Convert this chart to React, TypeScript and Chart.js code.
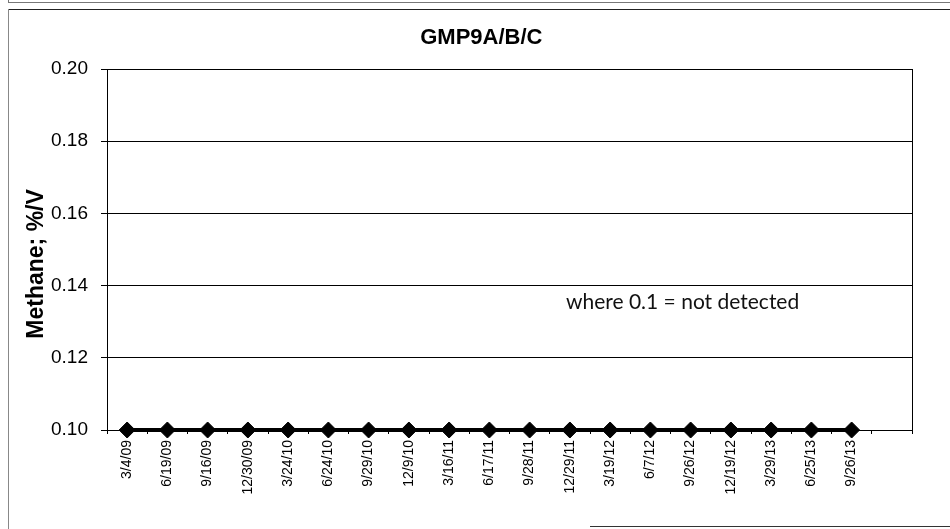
import React, { useEffect, useRef } from "react";
import { Chart, registerables } from "chart.js";

Chart.register(...registerables);

const title = "GMP9A/B/C";
const yAxisTitle = "Methane; %/V";
const note = "where 0.1 = not detected";
const dates = [
  "3/4/09", "6/19/09", "9/16/09", "12/30/09", "3/24/10", "6/24/10", "9/29/10",
  "12/9/10", "3/16/11", "6/17/11", "9/28/11", "12/29/11", "3/19/12", "6/7/12",
  "9/26/12", "12/19/12", "3/29/13", "6/25/13", "9/26/13", "",
];
const methane = [
  0.1, 0.1, 0.1, 0.1, 0.1, 0.1, 0.1, 0.1, 0.1, 0.1,
  0.1, 0.1, 0.1, 0.1, 0.1, 0.1, 0.1, 0.1, 0.1, null,
];
const yMin = 0.1;
const yMax = 0.2;
const yStep = 0.02;

const FONT = "'Liberation Sans', Arial, sans-serif";

const framePlugin = {
  id: "frameAndNote",
  afterDraw(chart: any) {
    const { ctx, chartArea } = chart;
    ctx.save();
    ctx.strokeStyle = "#000";
    ctx.lineWidth = 1;
    ctx.beginPath();
    ctx.moveTo(Math.round(chartArea.right) + 0.5, chartArea.top);
    ctx.lineTo(Math.round(chartArea.right) + 0.5, chartArea.bottom);
    ctx.stroke();
    const xs = chart.scales.x;
    const ys = chart.scales.y;
    // chart title
    ctx.fillStyle = "#000";
    ctx.font = `bold 22px ${FONT}`;
    ctx.textAlign = "center";
    ctx.textBaseline = "middle";
    ctx.fillText(title, chartArea.left + (chartArea.right - chartArea.left) * 0.465, 38);
    // y-axis title
    ctx.save();
    ctx.translate(37, chartArea.top + (chartArea.bottom - chartArea.top) * 0.54);
    ctx.rotate(-Math.PI / 2);
    ctx.font = `bold 23px ${FONT}`;
    ctx.fillText(yAxisTitle, 0, 0);
    ctx.restore();
    // note
    ctx.fillStyle = "#111";
    ctx.font = "21px Lato, 'Open Sans', sans-serif";
    ctx.fillText(note, xs.getPixelForValue(13.8), ys.getPixelForValue(0.1355));
    ctx.restore();
  },
};

export default function App() {
  const ref = useRef<HTMLCanvasElement | null>(null);
  useEffect(() => {
    if (!ref.current) return;
    const chart = new Chart(ref.current, {
      type: "line",
      data: {
        labels: dates,
        datasets: [
          {
            data: methane,
            borderColor: "#000",
            backgroundColor: "#000",
            borderWidth: 4,
            pointStyle: "rectRot",
            pointRadius: 8,
            pointBackgroundColor: "#000",
            pointBorderColor: "#000",
            pointBorderWidth: 1,
            clip: false as any,
          },
        ],
      },
      options: {
        animation: false,
        responsive: false,
        maintainAspectRatio: false,
        layout: { padding: { left: 0, right: 38, top: 69, bottom: 0 } },
        plugins: {
          legend: { display: false },
          tooltip: { enabled: false },
          title: { display: false },
        },
        scales: {
          x: {
            type: "category",
            offset: true,
            afterFit: (s: any) => { s.height = 99; },
            grid: { display: true, drawOnChartArea: false, drawTicks: true, tickLength: 4, offset: true, color: "#000" },
            border: { display: true, color: "#000", width: 1 },
            ticks: {
              autoSkip: false,
              maxRotation: 90,
              minRotation: 90,
              padding: 6,
              color: "#000",
              font: { family: FONT, size: 14 },
            },
          },
          y: {
            min: yMin,
            max: yMax,
            afterFit: (s: any) => { s.width = 107; },
            grid: { color: "#000", lineWidth: 1, tickLength: 6, drawTicks: true },
            border: { display: true, color: "#000", width: 1 },
            ticks: {
              stepSize: yStep,
              padding: 13,
              color: "#000",
              font: { family: FONT, size: 19 },
              callback: (v: any) => Number(v).toFixed(2),
            },
          },
        },
      },
      plugins: [framePlugin],
    });
    return () => chart.destroy();
  }, []);

  return (
    <div style={{ position: "fixed", left: 0, top: 0, width: 950, height: 529, background: "#fff" }}>
      <canvas ref={ref} width={950} height={529} style={{ position: "absolute", left: 0, top: 0 }} />
      <div style={{ position: "absolute", left: 8, top: 2, width: 942, height: 0, borderTop: "1px solid #777" }} />
      <div style={{ position: "absolute", left: 8, top: 0, width: 0, height: 3, borderLeft: "1px solid #777" }} />
      <div style={{ position: "absolute", left: 8, top: 9, width: 942, height: 0, borderTop: "1px solid #222" }} />
      <div style={{ position: "absolute", left: 8, top: 9, width: 0, height: 520, borderLeft: "1px solid #888" }} />
      <div style={{ position: "absolute", left: 590, top: 526, width: 360, height: 0, borderTop: "1px solid #333" }} />
    </div>
  );
}
